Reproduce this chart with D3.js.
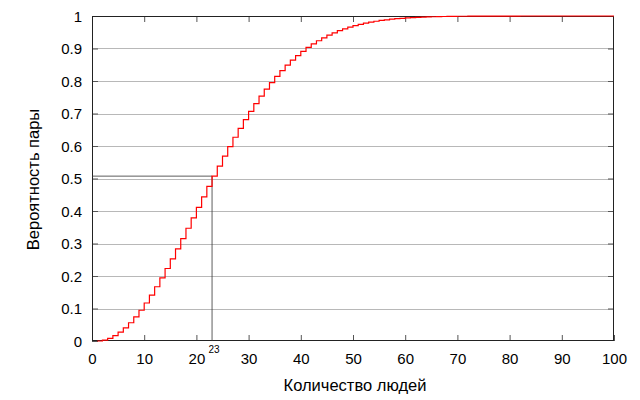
<!DOCTYPE html>
<html><head><meta charset="utf-8">
<script src="https://cdn.jsdelivr.net/npm/d3@7"></script>
<style>body{margin:0;background:#fff}svg{display:block}text{font-family:"Liberation Sans",Arial,sans-serif}</style>
</head><body><svg id="c" width="640" height="400"></svg>
<script>
const people = d3.range(1, 101);
const probability = [
0,0.0027,0.0082,0.0164,0.0271,0.0405,0.0562,0.0743,0.0946,0.1169,
0.1411,0.1670,0.1944,0.2231,0.2529,0.2836,0.3150,0.3469,0.3791,0.4114,
0.4437,0.4757,0.5073,0.5383,0.5687,0.5982,0.6269,0.6545,0.6810,0.7063,
0.7305,0.7533,0.7750,0.7953,0.8144,0.8322,0.8487,0.8641,0.8782,0.8912,
0.9032,0.9140,0.9239,0.9329,0.9410,0.9483,0.9548,0.9606,0.9658,0.9704,
0.9744,0.9780,0.9811,0.9839,0.9863,0.9883,0.9901,0.9917,0.9930,0.9941,
0.9951,0.9959,0.9966,0.9972,0.9977,0.9981,0.9984,0.9987,0.9990,0.9992,
0.9993,0.9995,0.9996,0.9997,0.9997,0.9998,0.9998,0.9999,0.9999,0.9999,
0.9999,1,1,1,1,1,1,1,1,1,
1,1,1,1,1,1,1,1,1,1];
const xTicks = [0,10,20,30,40,50,60,70,80,90,100];
const yTicks = [0,0.1,0.2,0.3,0.4,0.5,0.6,0.7,0.8,0.9,1];
const markN = [23];
const markP = [0.5073];
const xTitle = "Количество людей";
const yTitle = "Вероятность пары";

const L=92,R=614,T=16,B=341;
const x=d3.scaleLinear().domain([0,100]).range([L,R]);
const y=d3.scaleLinear().domain([0,1]).range([B,T]);
const svg=d3.select("#c");

// grid
svg.append("g").selectAll("line").data(yTicks.slice(1,-1)).join("line")
 .attr("x1",L).attr("x2",R).attr("y1",d=>Math.round(y(d))+0.5).attr("y2",d=>Math.round(y(d))+0.5)
 .attr("stroke","#b8b8b8").attr("stroke-width",1);

const tickLen=6, tc="#555";
const gx=svg.append("g").attr("transform",`translate(0,${B})`)
 .call(d3.axisBottom(x).tickValues(xTicks).tickFormat(d3.format("d")).tickSize(-tickLen).tickPadding(12));
const gxt=svg.append("g").attr("transform",`translate(0,${T})`)
 .call(d3.axisTop(x).tickValues(xTicks.slice(1,-1)).tickFormat("").tickSize(-tickLen));
const gy=svg.append("g").attr("transform",`translate(${L},0)`)
 .call(d3.axisLeft(y).tickValues(yTicks).tickFormat(d=>String(d)).tickSize(-tickLen).tickPadding(10));
const gyr=svg.append("g").attr("transform",`translate(${R},0)`)
 .call(d3.axisRight(y).tickValues(yTicks.slice(1,-1)).tickFormat("").tickSize(-tickLen));
[gx,gxt,gy,gyr].forEach(g=>{g.select(".domain").remove();g.selectAll(".tick line").attr("stroke",tc);
 g.selectAll("text").attr("font-size",15).attr("fill","#000").attr("font-family","Liberation Sans, Arial, sans-serif");});
gy.selectAll(".tick text").attr("dy","0.35em");

// frame
svg.append("rect").attr("x",L+0.5).attr("y",T+0.5).attr("width",R-L-1).attr("height",B-T-1)
 .attr("fill","none").attr("stroke","#222");

// marker lines
svg.append("path").attr("d",`M${x(0)},${y(markP[0])}H${x(markN[0])}V${y(0)}`)
 .attr("fill","none").attr("stroke","#333").attr("stroke-width",0.8);
svg.append("text").attr("x",x(markN[0])+2).attr("y",353).attr("text-anchor","middle")
 .attr("font-size",10).text(String(markN[0]));

// step line
const line=d3.line().x(d=>x(d[0])).y(d=>y(d[1])).curve(d3.curveStepAfter);
const pts=people.map((n,i)=>[n,probability[i]]);
svg.append("path").datum(pts).attr("d",line).attr("fill","none").attr("stroke","#ff0000").attr("stroke-width",1.2);

// titles
svg.append("text").attr("x",(L+R)/2+2).attr("y",391).attr("text-anchor","middle").attr("font-size",16.5).text(xTitle);
svg.append("text").attr("transform",`translate(39,${(T+B)/2+1}) rotate(-90)`).attr("text-anchor","middle").attr("font-size",16.5).text(yTitle);
</script></body></html>
